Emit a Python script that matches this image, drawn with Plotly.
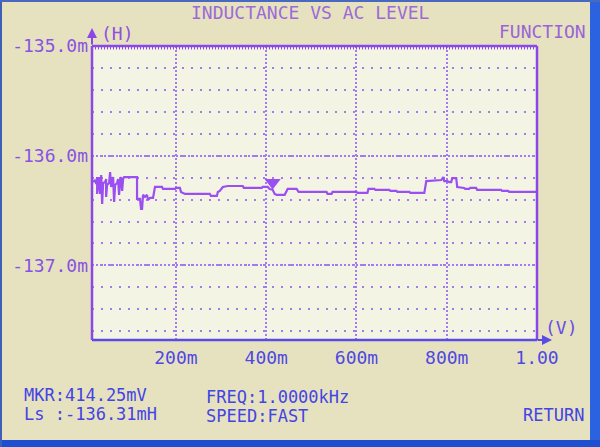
import plotly.graph_objects as go

# ---- data ----
x_mv = [16.6, 21.0, 23.2, 25.4, 25.4, 27.6, 29.8, 32.0, 34.3, 36.5, 38.7, 43.1, 45.3, 45.3, 47.5,
        51.9, 54.1, 56.4, 58.6, 60.8, 63.0, 65.2, 69.6, 71.8, 74.0, 76.2, 78.5, 80.7, 82.9, 85.1,
        113.8, 113.8, 120.4, 122.6, 124.9, 127.1, 131.5, 135.9, 138.1, 142.5, 149.2, 153.6, 169.1,
        171.3, 197.8, 200.0, 208.8, 211.1, 219.9, 275.1, 277.4, 290.6, 292.8, 297.2, 303.9, 314.9,
        348.1, 350.3, 390.1, 392.3, 403.3, 407.7, 414.25, 418.8, 423.2, 440.9, 445.3, 447.5, 467.4,
        471.8, 533.7, 535.9, 544.8, 547.0, 600.0, 602.2, 624.3, 626.5, 639.8, 642.0, 672.9, 675.1,
        688.4, 690.6, 717.1, 719.4, 750.3, 754.7, 787.9, 792.3, 794.5, 801.1, 805.5, 809.9, 812.1,
        821.0, 823.2, 838.7, 840.9, 849.7, 852.0, 865.2, 867.4, 920.5, 922.7, 936.0, 938.2, 997.8]
ls_mh = [-136.240, -136.222, -136.258, -136.195, -136.348, -136.231, -136.195, -136.348, -136.176,
         -136.439, -136.249, -136.240, -136.213, -136.376, -136.267, -136.249, -136.149, -136.285,
         -136.231, -136.195, -136.421, -136.267, -136.249, -136.213, -136.357, -136.231, -136.195,
         -136.321, -136.213, -136.195, -136.195, -136.394, -136.394, -136.484, -136.484, -136.357,
         -136.376, -136.357, -136.403, -136.385, -136.385, -136.285, -136.285, -136.303, -136.303,
         -136.294, -136.294, -136.330, -136.348, -136.348, -136.367, -136.367, -136.330, -136.321,
         -136.285, -136.276, -136.276, -136.294, -136.294, -136.285, -136.285, -136.303, -136.310,
         -136.348, -136.357, -136.357, -136.321, -136.303, -136.303, -136.330, -136.330, -136.348,
         -136.348, -136.330, -136.330, -136.339, -136.339, -136.303, -136.303, -136.312, -136.312,
         -136.321, -136.321, -136.330, -136.330, -136.339, -136.339, -136.231, -136.222, -136.195,
         -136.231, -136.231, -136.240, -136.240, -136.204, -136.204, -136.285, -136.294, -136.303,
         -136.303, -136.294, -136.294, -136.312, -136.312, -136.321, -136.321, -136.330, -136.330]

x_tickvals = [200, 400, 600, 800, 1000]
x_ticktext = ["200m", "400m", "600m", "800m", "1.00"]
y_tickvals = [-135.0, -136.0, -137.0]
y_ticktext = ["-135.0m", "-136.0m", "-137.0m"]

mkr_x = 414.25   # mV
mkr_y = -136.31  # mH
freq_text = "1.0000kHz"
speed_text = "FAST"
title_text = "INDUCTANCE VS AC LEVEL"

# ---- style ----
FONT = "DejaVu Sans Mono"
VIOLET = "#9a5ee6"
LINE = "#9b4ef2"
GRID = "#a47af0"
BLUE_TXT = "#4444e4"
AXIS_L = "#8a48e8"
AXIS_B = "#5a4ae6"
PAPER = "#e6e2c0"
PLOTBG = "#f4f4e4"
BEZEL = "#2a62e0"

fig = go.Figure()
fig.add_trace(go.Scatter(x=x_mv, y=ls_mh, mode="lines",
                         line=dict(color=LINE, width=2.2), hoverinfo="skip"))
# marker triangle just above the marker point
fig.add_trace(go.Scatter(x=[mkr_x], y=[mkr_y + 0.065], mode="markers",
                         marker=dict(symbol="triangle-down", size=14, color=LINE,
                                     line=dict(width=0)), hoverinfo="skip"))

fig.update_layout(
    width=600, height=447,
    margin=dict(l=92, r=63, t=46, b=107),
    paper_bgcolor=PAPER, plot_bgcolor=PLOTBG,
    showlegend=False,
    font=dict(family=FONT, size=18, color=VIOLET),
)
fig.update_xaxes(range=[14, 1000], tickvals=x_tickvals, ticktext=x_ticktext,
                 showgrid=True, gridcolor=GRID, griddash="2px,2px", gridwidth=1.5,
                 showline=False, zeroline=False, ticks="", ticklabelstandoff=5,
                 tickfont=dict(family=FONT, size=18, color="#5048e2"))
fig.update_yaxes(range=[-137.68, -135.0], tickvals=y_tickvals, ticktext=y_ticktext,
                 showgrid=True, gridcolor=GRID, griddash="2px,2px", gridwidth=1.5,
                 minor=dict(tickmode="linear", tick0=-135.0, dtick=0.2, showgrid=True,
                            gridcolor=GRID, griddash="2px,7px", gridwidth=2),
                 showline=False, zeroline=False, ticks="", ticklabelstandoff=3,
                 tickfont=dict(family=FONT, size=18, color="#8a52e0"))

shapes = [
    # borders
    dict(type="line", xref="paper", yref="paper", x0=0, x1=0, y0=0, y1=1, line=dict(color=AXIS_L, width=2.5)),
    dict(type="line", xref="paper", yref="paper", x0=1, x1=1, y0=0, y1=1, line=dict(color=AXIS_L, width=2.5)),
    dict(type="line", xref="paper", yref="paper", x0=0, x1=1, y0=1, y1=1, line=dict(color=AXIS_L, width=2.5)),
    dict(type="line", xref="paper", yref="paper", x0=0, x1=1, y0=0.9935, y1=0.9935,
         line=dict(color=AXIS_L, width=3, dash="1px,2px")),
    dict(type="line", xref="paper", yref="paper", x0=0, x1=1, y0=0, y1=0, line=dict(color=AXIS_B, width=2.5)),
    # blue bezel of the screen
    dict(type="rect", xref="paper", yref="paper", x0=(590 - 92) / 445, x1=(610 - 92) / 445,
         y0=(340 + 10) / 294, y1=(340 - 460) / 294, fillcolor=BEZEL, line=dict(width=0)),
    dict(type="rect", xref="paper", yref="paper", x0=(-10 - 92) / 445, x1=(610 - 92) / 445,
         y0=(340 - 440) / 294, y1=(340 - 460) / 294, fillcolor="#1e4fd0", line=dict(width=0)),
    dict(type="rect", xref="paper", yref="paper", x0=(-10 - 92) / 445, x1=(2 - 92) / 445,
         y0=(340 + 10) / 294, y1=(340 - 460) / 294, fillcolor="#3d5fb8", line=dict(width=0)),
    dict(type="rect", xref="paper", yref="paper", x0=(-10 - 92) / 445, x1=(610 - 92) / 445,
         y0=(340 + 10) / 294, y1=(340 - 2) / 294, fillcolor="#4a68c0", line=dict(width=0)),
]
fig.update_layout(shapes=shapes)

def txt(s, x, y, anchor="left", color=VIOLET, size=18):
    return dict(text=s, x=x, y=y, xref="paper", yref="paper", xanchor=anchor, yanchor="middle",
                showarrow=False, font=dict(family=FONT, size=size, color=color))

annotations = [
    txt(title_text, (310 - 92) / 445, (340 - 13) / 294, "center", "#9c6ad8"),
    txt("(H)", (99 - 92) / 445, (340 - 33) / 294, "left", "#9050e0"),
    txt("FUNCTION", (588 - 92) / 445, (340 - 31) / 294, "right", "#9a64d8"),
    txt("(V)", (543 - 92) / 445, (340 - 327) / 294, "left", "#6a50e0"),
    txt(f"MKR:{mkr_x:.2f}mV", (22 - 92) / 445, (340 - 395) / 294, "left", BLUE_TXT, 17),
    txt(f"Ls :{mkr_y:.2f}mH", (22 - 92) / 445, (340 - 414) / 294, "left", BLUE_TXT, 17),
    txt(f"FREQ:{freq_text}", (204 - 92) / 445, (340 - 397) / 294, "left", BLUE_TXT, 17),
    txt(f"SPEED:{speed_text}", (204 - 92) / 445, (340 - 416) / 294, "left", BLUE_TXT, 17),
    txt("RETURN", (586 - 92) / 445, (340 - 415) / 294, "right", BLUE_TXT, 17),
    # axis arrows
    dict(text="", x=0, y=(340 - 28) / 294, xref="paper", yref="paper", showarrow=True,
         ax=0, ay=18, arrowhead=2, arrowsize=1, arrowwidth=2, arrowcolor=AXIS_L),
    dict(text="", x=(552 - 92) / 445, y=0, xref="paper", yref="paper", showarrow=True,
         ax=-16, ay=0, arrowhead=2, arrowsize=1, arrowwidth=2, arrowcolor=AXIS_B),
]
fig.update_layout(annotations=annotations)

fig.write_html("out.html", config={"displayModeBar": False},
               post_script="document.body.style.margin='0';document.body.style.overflow='hidden';")
